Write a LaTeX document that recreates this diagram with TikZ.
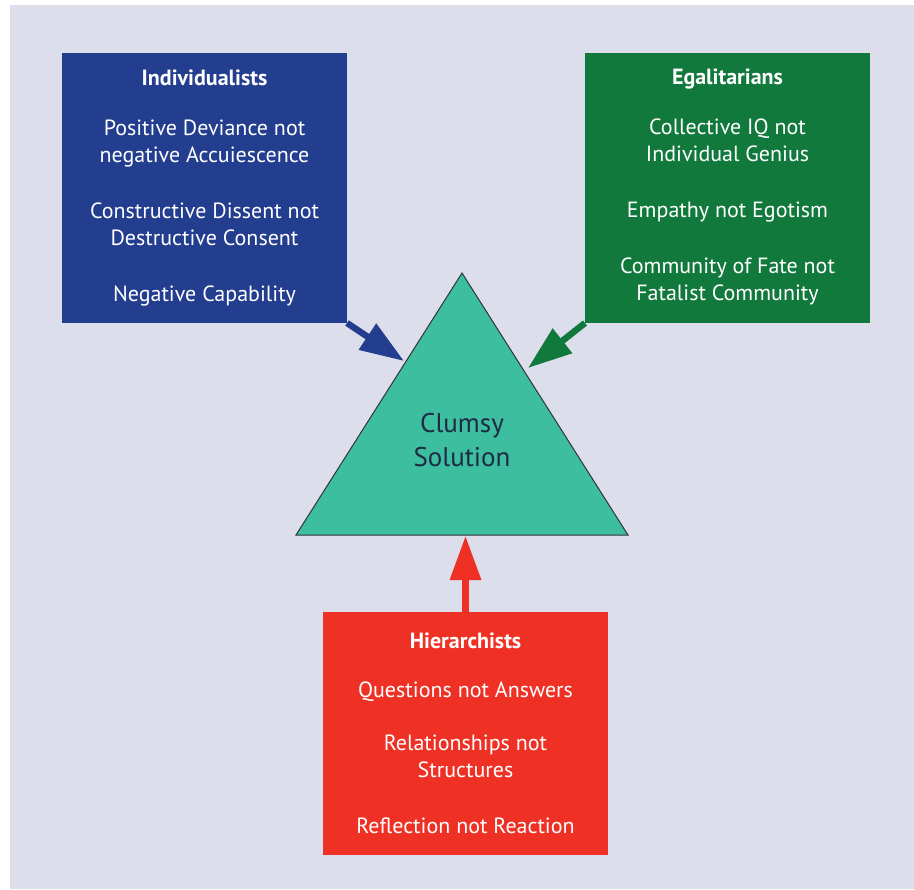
\documentclass[tikz,border=0pt]{standalone}
\usepackage{fontspec}
\setmainfont{PT Sans}
\usetikzlibrary{positioning,arrows.meta}

\definecolor{backdrop}{RGB}{220,222,235}
\definecolor{indivblue}{RGB}{35,61,143}
\definecolor{egalgreen}{RGB}{18,121,61}
\definecolor{hierred}{RGB}{238,49,36}
\definecolor{clumsyfill}{RGB}{60,190,159}
\definecolor{clumsyink}{RGB}{31,42,68}

\begin{document}
\begin{tikzpicture}
        [ x = .5pt, y = -.5pt
        , group/.style =
          { minimum width = 142.5pt, inner sep = 0pt, outer sep = 0pt }
        , grouptext/.style =
          { white, align = center, anchor = base
          , font = \fontsize{11}{13.5}\selectfont }
        , push/.style =
          { line width = 3.25pt, -{Triangle[length=22pt,width=15pt]} }
        , solution/.style =
          { fill = clumsyfill, draw = black!80, line width = .5pt }
        ]
        \useasboundingbox (0,0) rectangle (914,889);
        \fill [backdrop] (10,5) rectangle (914,889);

        % the three groups
        \node [group, fill=indivblue, minimum height=135pt] (indiv) at (204.5,188) {};
        \node [group, fill=egalgreen, minimum height=135pt] (egal) at (727.5,188) {};
        \node [group, fill=hierred, minimum height=121.5pt] (hier) at (465.5,733.5) {};

        % texts sit on the baseline of their last line
        \node [grouptext] (indivtext) at ([yshift=11pt]indiv.south)
          {\textbf{Individualists}\\[11.5pt]
           Positive Deviance not\\ negative Accuiescence\\[14.5pt]
           Constructive Dissent not\\ Destructive Consent\\[14.5pt]
           Negative Capability};
        \node [grouptext] (egaltext) at ([yshift=11.5pt]egal.south)
          {\textbf{Egalitarians}\\[11.5pt]
           Collective IQ not\\ Individual Genius\\[14.5pt]
           Empathy not Egotism\\[14.5pt]
           Community of Fate not\\ Fatalist Community};
        \node [grouptext] (hiertext) at ([yshift=11pt]hier.south)
          {\textbf{Hierarchists}\\[11pt]
           Questions not Answers\\[13pt]
           Relationships not\\ Structures\\[14.5pt]
           Reflection not Reaction};

        % the triangle
        \coordinate (apex) at (462,273);
        \coordinate (baseL) at (296,535);
        \coordinate (baseR) at (628,535);
        \filldraw [solution] (apex) -- (baseL) -- (baseR) -- cycle;
        \node [clumsyink, align=center, font=\fontsize{13.5}{17}\selectfont]
          (clumsy) at (462,440) {Clumsy\\ Solution};

        \coordinate (hitL) at (404,361);
        \coordinate (hitR) at (528,368);
        \coordinate (hitB) at (465.5,536);

        \draw [push, indivblue] (indiv.south east) -- (hitL);
        \draw [push, egalgreen] (egal.south west) -- (hitR);
        \draw [push, hierred] (hier.north) -- (hitB);
      \end{tikzpicture}
\end{document}
